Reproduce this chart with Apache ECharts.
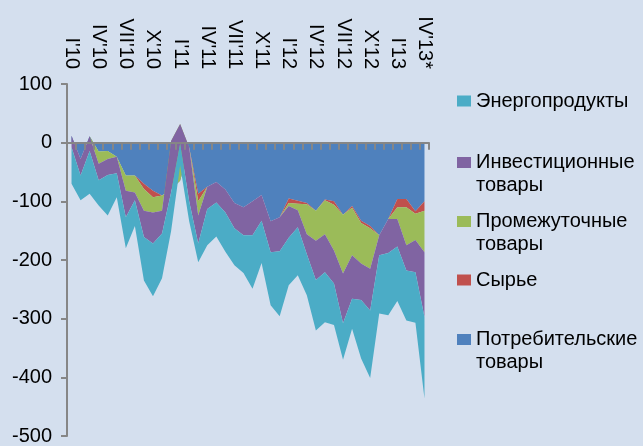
<!DOCTYPE html>
<html>
<head>
<meta charset="utf-8">
<script src="https://cdn.jsdelivr.net/npm/echarts@6.0.0/dist/echarts.min.js"></script>
<style>
    html, body { margin: 0; padding: 0; background: #D4DFEE; }
    #chart { width: 643px; height: 446px; }
</style>
</head>
<body>
<div id="chart"></div>
<script>
    // months, Jan 2010 .. Apr 2013
    var months = ["I'10", "II'10", "III'10", "IV'10", "V'10", "VI'10", "VII'10", "VIII'10", "IX'10", "X'10", "XI'10", "XII'10",
        "I'11", "II'11", "III'11", "IV'11", "V'11", "VI'11", "VII'11", "VIII'11", "IX'11", "X'11", "XI'11", "XII'11",
        "I'12", "II'12", "III'12", "IV'12", "V'12", "VI'12", "VII'12", "VIII'12", "IX'12", "X'12", "XI'12", "XII'12",
        "I'13", "II'13", "III'13", "IV'13*"];

    var consumer = [12, -28, 11, -15, -14, -24, -56, -56, -70, -82, -90, -80, -65, -8, -87, -75, -67, -80, -103, -110,
        -100, -89, -134, -127, -95, -99, -103, -116, -97, -100, -123, -108, -133, -142, -158, -130, -96, -96, -117, -100];
    var rawMat = [0, 0, 0, 0, 0, 0, 0, 0, -9, -11, 0, 0, 0, 0, -13, 0, 0, 0, 0, 0,
        0, 0, 0, 0, -8, -5, -2, 0, -1, -6, 0, -3, -4, -4, 0, 0, -14, -14, -4, -16];
    var intermediate = [0, 0, 0, -21, -14, 0, -26, -29, -37, -26, -26, 83, 97, 0, -24, 0, 0, 0, 0, 0,
        0, 0, 0, 0, -5, -11, -51, -51, -58, -78, -100, -81, -69, -69, 0, 0, -20, -65, -45, -71];
    var investment = [-20, -28, -25, -28, -27, -28, -45, -13, -45, -53, -39, -88, -34, -92, -48, -38, -35, -39, -43, -48,
        -58, -44, -53, -58, -54, -29, -34, -67, -65, -56, -85, -74, -62, -71, -34, -58, -47, -43, -55, -110];
    var energy = [-62, -42, -73, -43, -69, -41, -53, -44, -74, -90, -76, -66, -37, -34, -32, -62, -58, -67, -63, -64,
        -91, -72, -90, -111, -81, -82, -70, -86, -85, -71, -62, -51, -100, -115, -99, -106, -93, -85, -86, -139];

    var yMin = -500, yMax = 100, yStep = 100;

    var names = ['Потребительские товары', 'Сырье', 'Промежуточные товары', 'Инвестиционные товары', 'Энергопродукты'];
    var colors = ['#4F81BD', '#C0504D', '#9BBB59', '#8064A2', '#4BACC6'];
    var values = [consumer, rawMat, intermediate, investment, energy];

    var font = "'Liberation Sans', Arial, sans-serif";
    var axisGrey = '#868686';

    // legend goes top->bottom in reverse stacking order
    var legendOrder = [4, 3, 2, 1, 0];
    var legendMid = [101, 162.5, 221.5, 280, 339.5];

    var legends = legendOrder.map(function (k, n) {
        var twoLines = names[k].indexOf(' ') > 0;
        return {
            data: [names[k]],
            orient: 'vertical',
            left: 457,
            top: legendMid[n] - (twoLines ? 34.5 : 11.5),
            padding: 0,
            icon: 'rect',
            itemWidth: 14,
            itemHeight: 11,
            selectedMode: false,
            // blank first line keeps the icon level with the first word
            formatter: function (name) {
                return name.indexOf(' ') > 0 ? ' \n' + name.replace(' ', '\n') : name;
            },
            textStyle: { fontFamily: font, fontSize: 20, color: '#000', lineHeight: 23 }
        };
    });

    var series = names.map(function (name, k) {
        return {
            name: name,
            type: 'line',
            stack: 'total',
            stackStrategy: 'all',
            data: values[k],
            symbol: 'none',
            color: colors[k],
            lineStyle: { width: 0 },
            itemStyle: { color: colors[k] },
            areaStyle: { color: colors[k], opacity: 1 }
        };
    });

    var chartDom = document.getElementById('chart');
    var myChart = echarts.init(chartDom);
    var option = {
        animation: false,
        backgroundColor: '#D4DFEE',
        legend: legends,
        grid: { left: 67, right: 214, top: 84, bottom: 9.5 },
        xAxis: [
            {
                type: 'category',
                data: months,
                boundaryGap: true,
                position: 'bottom',
                z: 5,
                axisLine: { onZero: true, lineStyle: { color: axisGrey, width: 2 } },
                axisTick: { show: true, interval: 0, length: 7, lineStyle: { color: axisGrey, width: 2 } },
                axisLabel: { show: false },
                splitLine: { show: false }
            },
            {
                type: 'category',
                data: months,
                boundaryGap: true,
                position: 'top',
                axisLine: { show: false, onZero: false },
                axisTick: { show: false },
                axisLabel: {
                    interval: 2, rotate: 90, margin: 15,
                    fontFamily: font, fontSize: 20, color: '#000'
                },
                splitLine: { show: false }
            }
        ],
        yAxis: {
            type: 'value',
            min: yMin,
            max: yMax,
            interval: yStep,
            z: 5,
            axisLine: { show: true, lineStyle: { color: axisGrey, width: 2 } },
            axisTick: { show: true, length: 6, lineStyle: { color: axisGrey, width: 2 } },
            axisLabel: { fontFamily: font, fontSize: 20, color: '#000', margin: 15 },
            splitLine: { show: false }
        },
        series: series
    };

    option && myChart.setOption(option);
</script>
</body>
</html>
